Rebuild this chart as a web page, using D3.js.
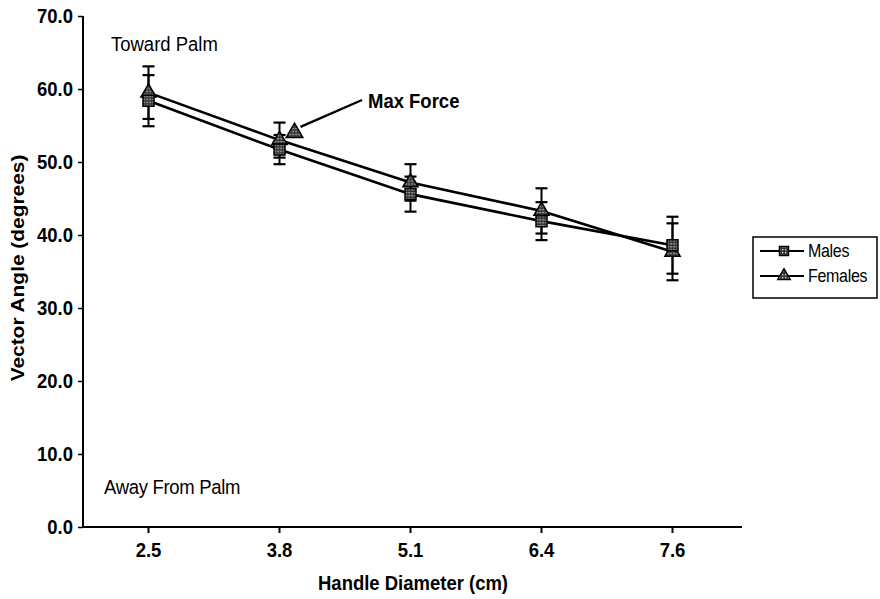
<!DOCTYPE html>
<html><head><meta charset="utf-8">
<script src="https://cdn.jsdelivr.net/npm/d3@7"></script>
<style>
html,body{margin:0;padding:0;background:#fff;}
text{font-family:"Liberation Sans",Arial,sans-serif;}
</style></head>
<body>
<svg id="chart" width="880" height="599"></svg>
<script>
const categories = ["2.5", "3.8", "5.1", "6.4", "7.6"];
const malesMean = [58.4, 51.7, 45.6, 41.9, 38.6];
const malesErr = [3.5, 2.0, 2.4, 2.6, 3.9];
const femalesMean = [59.5, 53.0, 47.2, 43.3, 37.7];
const femalesErr = [3.6, 2.4, 2.5, 3.1, 3.9];
const yTicks = [0, 10, 20, 30, 40, 50, 60, 70];
const maxForce = {cat: "3.8", value: 54.0, offset: 15};

(function () {
const svg = d3.select("#chart");
const pLeft = 83, pRight = 742, pTop = 16, pBottom = 527;
const FONT = "Liberation Sans, Arial, sans-serif";
const S = 1.13; // vertical stretch of the scanned text

const x = d3.scaleBand().domain(categories).range([pLeft, 738]);
const y = d3.scaleLinear().domain([0, 70]).range([pBottom, pTop]);
const cx = c => x(c) + x.bandwidth() / 2;

function label(px, py, txt, size, bold, anchor) {
  return svg.append("text").attr("transform", `translate(${px},${py}) scale(1,${S})`)
    .attr("font-size", size).attr("font-weight", bold ? "bold" : "normal")
    .attr("text-anchor", anchor || "start").attr("fill", "#000").text(txt);
}

// dithered fill pattern
const defs = svg.append("defs");
const pat = defs.append("pattern").attr("id", "dots").attr("width", 3).attr("height", 3)
  .attr("patternUnits", "userSpaceOnUse");
pat.append("rect").attr("width", 3).attr("height", 3).attr("fill", "#333");
pat.append("rect").attr("x", 1).attr("y", 1).attr("width", 1.3).attr("height", 1.3).attr("fill", "#e0e0e0");

// Y axis
const yAxis = d3.axisLeft(y).tickValues(yTicks).tickFormat(d3.format(".1f")).tickSize(5).tickPadding(5);
const gy = svg.append("g").attr("transform", `translate(${pLeft},0)`).call(yAxis);
gy.select(".domain").attr("stroke", "#000").attr("stroke-width", 2).attr("d", `M0,${pTop}V${pBottom}`);
gy.selectAll(".tick line").attr("stroke", "#000").attr("stroke-width", 1.5);
gy.selectAll(".tick text").attr("font-size", 18.5).attr("font-weight", "bold").attr("fill", "#000")
  .attr("font-family", FONT).attr("transform", `scale(1,${S})`);

// X axis
const xAxis = d3.axisBottom(x).tickSize(6).tickPadding(7);
const gx = svg.append("g").attr("transform", `translate(0,${pBottom})`).call(xAxis);
gx.select(".domain").attr("stroke", "#000").attr("stroke-width", 2).attr("d", `M${pLeft},0H${pRight}`);
gx.selectAll(".tick line").attr("stroke", "#000").attr("stroke-width", 2);
gx.selectAll(".tick text").attr("font-size", 18.5).attr("font-weight", "bold").attr("fill", "#000")
  .attr("font-family", FONT).attr("transform", `scale(1,${S})`);

// Axis titles
label(413, 590, "Handle Diameter (cm)", 18.5, true, "middle");
svg.append("text").attr("transform", `translate(24,268) rotate(-90) scale(${S},1)`).attr("text-anchor", "middle")
  .attr("font-size", 18.5).attr("font-weight", "bold").text("Vector Angle (degrees)");

// Annotations
label(111, 51, "Toward Palm", 18.5, false);
label(104, 494, "Away From Palm", 18.5, false).attr("letter-spacing", -0.3);
label(368, 108, "Max Force", 18.5, true);

const series = [
  {name: "Females", mean: femalesMean, err: femalesErr, sym: d3.symbolTriangle, size: 100},
  {name: "Males", mean: malesMean, err: malesErr, sym: d3.symbolSquare, size: 121}
];

const line = d3.line().x((d, i) => cx(categories[i])).y(d => y(d));

series.forEach(s => {
  svg.append("path").attr("d", line(s.mean)).attr("fill", "none").attr("stroke", "#000").attr("stroke-width", 2.6);
});

series.forEach(s => {
  const g = svg.append("g");
  s.mean.forEach((m, i) => {
    const px = cx(categories[i]);
    const hi = y(m + s.err[i]), lo = y(m - s.err[i]);
    g.append("line").attr("x1", px).attr("x2", px).attr("y1", hi).attr("y2", lo).attr("stroke", "#000").attr("stroke-width", 2);
    [hi, lo].forEach(yy => g.append("line").attr("x1", px - 6).attr("x2", px + 6).attr("y1", yy).attr("y2", yy)
      .attr("stroke", "#000").attr("stroke-width", 2.2));
  });
});

series.forEach(s => {
  svg.append("g").selectAll("path").data(s.mean).join("path")
    .attr("transform", (d, i) => `translate(${cx(categories[i])},${y(d)})`)
    .attr("d", d3.symbol().type(s.sym).size(s.size))
    .attr("fill", "url(#dots)").attr("stroke", "#000").attr("stroke-width", 1.5);
});

// Max Force marker and arrow
const mfx = cx(maxForce.cat) + maxForce.offset, mfy = y(maxForce.value);
svg.append("path").attr("transform", `translate(${mfx},${mfy})`)
  .attr("d", d3.symbol().type(d3.symbolTriangle).size(120))
  .attr("fill", "url(#dots)").attr("stroke", "#000").attr("stroke-width", 1.5);
svg.append("line").attr("x1", mfx + 6).attr("y1", mfy - 6).attr("x2", 362).attr("y2", 100)
  .attr("stroke", "#000").attr("stroke-width", 2.4);

// Legend
const lg = svg.append("g");
lg.append("rect").attr("x", 753).attr("y", 237).attr("width", 124).attr("height", 61)
  .attr("fill", "#fff").attr("stroke", "#000").attr("stroke-width", 1.5);
const legendItems = [series[1], series[0]];
legendItems.forEach((s, i) => {
  const ly = 251 + i * 25;
  lg.append("line").attr("x1", 760).attr("x2", 804).attr("y1", ly).attr("y2", ly).attr("stroke", "#000").attr("stroke-width", 1.8);
  lg.append("path").attr("transform", `translate(784,${ly})`)
    .attr("d", d3.symbol().type(s.sym).size(s.size * 0.7))
    .attr("fill", "url(#dots)").attr("stroke", "#000").attr("stroke-width", 1.3);
  lg.append("text").attr("transform", `translate(808,${ly + 6}) scale(1,${S})`)
    .attr("font-size", 16).attr("letter-spacing", -0.3).text(s.name);
});
})();
</script>
</body></html>
